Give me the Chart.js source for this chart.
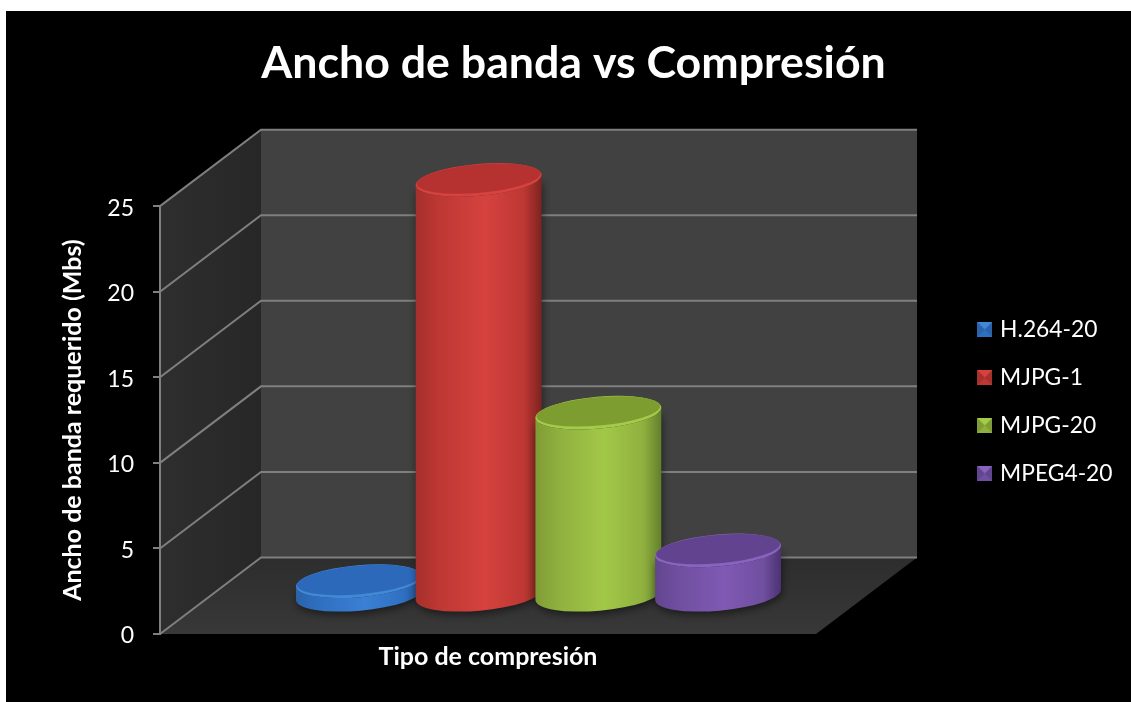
<!DOCTYPE html>
<html><head><meta charset="utf-8">
<style>html,body{margin:0;padding:0;background:#fff;overflow:hidden}
#w{position:absolute;left:6px;top:11px;width:1125px;height:691px;background:#000}</style>
<script src="https://cdn.jsdelivr.net/npm/chart.js@4/dist/chart.umd.js"></script>
</head><body><div id="w"><canvas id="c" width="1125" height="691"></canvas></div>
<script>
const categories = [''];
const seriesNames = ['H.264-20', 'MJPG-1', 'MJPG-20', 'MPEG4-20'];
const seriesValues = [0.85, 24.3, 10.7, 2.65];
const tickStep = 5, axisMax = 25;
const chartTitle = 'Ancho de banda vs Compresión';
const xTitle = 'Tipo de compresión';
const yTitle = 'Ancho de banda requerido (Mbs)';
const palette = [
 {left:'#2a62ab',edge:'#1f4f8f',mid:'#2f6fc0',hi:'#3b80d4',cap:'#2c69bb',rim:'#4088d8'},
 {left:'#a5302c',edge:'#7d2320',mid:'#bd3733',hi:'#d6423e',cap:'#b53230',rim:'#d8423e'},
 {left:'#7f9c35',edge:'#62802a',mid:'#8fb03f',hi:'#a2c848',cap:'#7d9d30',rim:'#a4cc48'},
 {left:'#62458f',edge:'#4c3273',mid:'#6f4f9f',hi:'#8059b4',cap:'#62438f',rim:'#8a62c0'}];
const DX=101, DY=76.5, ROT=-5*Math.PI/180, RY=16;

function marker(p){
  const s=15,k=document.createElement('canvas');k.width=s;k.height=s;
  const g=k.getContext('2d');
  const tri=(a,b,c,d,col)=>{g.fillStyle=col;g.beginPath();g.moveTo(a,b);g.lineTo(c,d);g.lineTo(s/2,s/2);g.closePath();g.fill();};
  g.fillStyle=p.mid;g.fillRect(0,0,s,s);
  tri(0,0,s,0,p.rim);tri(s,0,s,s,p.left);tri(s,s,0,s,p.mid);tri(0,s,0,0,p.left);
  return k;
}

class CylinderElement extends Chart.BarElement{
  draw(ctx){
    const p=palette.find(q=>q.mid===this.options.backgroundColor)||palette[0];
    const {x,y,base,width}=this.getProps(['x','y','base','width'],true);
    const rx=width/2, cx=x+DX/2, top=y-DY/2, bot=base-DY/2;
    const ex=rx*Math.cos(ROT), ey=rx*Math.sin(ROT);
    ctx.save();
    ctx.beginPath();
    ctx.moveTo(cx-ex,top-ey);ctx.lineTo(cx-ex,bot-ey);
    ctx.ellipse(cx,bot,rx,RY,ROT,Math.PI,0,true);
    ctx.lineTo(cx+ex,top+ey);
    ctx.ellipse(cx,top,rx,RY,ROT,0,Math.PI,false);
    ctx.closePath();
    const g=ctx.createLinearGradient(cx-ex,0,cx+ex,0);
    g.addColorStop(0,p.left);g.addColorStop(.18,p.mid);g.addColorStop(.55,p.hi);g.addColorStop(.86,p.mid);g.addColorStop(1,p.edge);
    ctx.shadowColor='rgba(0,0,0,.5)';ctx.shadowBlur=9;ctx.shadowOffsetX=1;ctx.shadowOffsetY=3;
    ctx.fillStyle=g;ctx.fill();
    ctx.shadowColor='transparent';
    ctx.beginPath();ctx.ellipse(cx,top,rx,RY,ROT,0,Math.PI*2);ctx.fillStyle=p.rim;ctx.fill();
    ctx.beginPath();ctx.ellipse(cx,top-1.2,rx-1,RY-1.8,ROT,0,Math.PI*2);ctx.fillStyle=p.cap;ctx.fill();
    ctx.restore();
  }
}
CylinderElement.id='cylinder';
CylinderElement.defaults=Chart.BarElement.defaults;
class CylinderController extends Chart.BarController{}
CylinderController.id='cylinderBar';
CylinderController.defaults=Object.assign({},Chart.BarController.defaults,{dataElementType:'cylinder'});
CylinderController.overrides=Chart.BarController.overrides;
Chart.register(CylinderElement,CylinderController);

const stage={id:'stage',
  afterLayout(ch){
    const l=ch.legend;l.left=949.5;l.right=1125;l.top=282;l.bottom=505;l.width=175.5;l.height=223;
    const t=ch.titleBlock;t.left=0;t.right=1135;t.width=1135;
    ch.scales.y.getLabelItems().forEach(i=>{i.options.translation[1]+=2;});
  },
  beforeDraw(ch){
    const c=ch.ctx,a=ch.chartArea,s=ch.scales.y;
    c.save();
    const poly=(pts,fill)=>{c.beginPath();pts.forEach((q,i)=>i?c.lineTo(q[0],q[1]):c.moveTo(q[0],q[1]));c.closePath();c.fillStyle=fill;c.fill();};
    const bx=a.left+DX,bt=a.top-DY,bb=a.bottom-DY,br=a.right+DX;
    poly([[bx,bt],[br,bt],[br,bb],[bx,bb]],'#414141');
    let g=c.createLinearGradient(a.left,0,bx,0);g.addColorStop(0,'#2e2e2e');g.addColorStop(1,'#272727');
    poly([[a.left,a.top],[bx,bt],[bx,bb],[a.left,a.bottom]],g);
    g=c.createLinearGradient(0,bb,0,a.bottom);g.addColorStop(0,'#2d2d2d');g.addColorStop(1,'#383838');
    poly([[bx,bb],[br,bb],[a.right,a.bottom],[a.left,a.bottom]],g);
    c.strokeStyle='#7f7f7f';c.lineWidth=2;
    s.ticks.forEach(t=>{
      const y=s.getPixelForValue(t.value);
      c.beginPath();c.moveTo(a.left,y);c.lineTo(bx,y-DY);c.lineTo(br,y-DY);c.stroke();
    });
    c.restore();
  },
  beforeDatasetsDraw(ch){
    ch.data.datasets.forEach((d,i)=>ch.getDatasetMeta(i).controller.draw());
    return false;
  }};

new Chart(document.getElementById('c'),{
  type:'cylinderBar',
  plugins:[stage],
  data:{labels:categories,datasets:seriesNames.map((n,i)=>({label:n,data:[seriesValues[i]],backgroundColor:palette[i].mid,clip:false}))},
  options:{
    responsive:false,animation:false,
    categoryPercentage:.73,barPercentage:1.055,
    layout:{padding:{left:0,right:315,top:0,bottom:0}},
    plugins:{
      tooltip:{enabled:false},
      title:{display:true,text:chartTitle,color:'#fff',font:{family:'Lato',size:44.7,weight:'bold'},padding:{top:26,bottom:115.5}},
      legend:{position:'chartArea',align:'start',
        labels:{color:'#fff',font:{family:'Lato',size:22.8},padding:25.2,usePointStyle:true,boxWidth:8,boxHeight:14,pointStyleWidth:8,
          generateLabels:ch=>ch.data.datasets.map((d,i)=>({text:d.label,fontColor:'#fff',fillStyle:palette[i].mid,strokeStyle:palette[i].mid,lineWidth:0,pointStyle:marker(palette[i]),hidden:false,datasetIndex:i}))}}
    },
    scales:{
      x:{type:'category',grid:{display:false},border:{display:false},ticks:{display:false},
        title:{display:true,text:xTitle,color:'#fff',font:{family:'Lato',size:25,weight:'bold'},padding:{top:0,bottom:30}},
        afterFit:s=>{s.height=68;}},
      y:{min:0,max:axisMax,ticks:{stepSize:tickStep,color:'#fff',font:{family:'Lato',size:23},padding:19},
        grid:{drawOnChartArea:false,color:'#808080',lineWidth:2,tickLength:7},
        border:{color:'#808080',width:2},
        title:{display:true,text:yTitle,color:'#fff',font:{family:'Lato',size:25,weight:'bold'},padding:{top:52,bottom:0}},
        afterFit:s=>{s.width=154;}}
    }
  }
});
</script></body></html>
